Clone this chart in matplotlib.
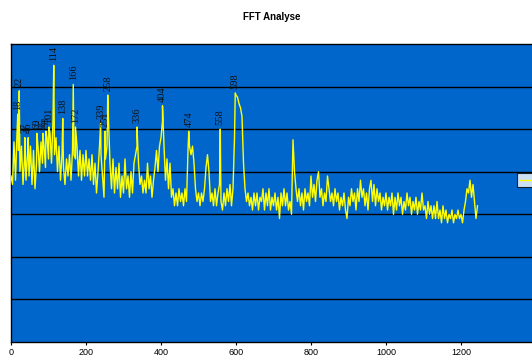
import numpy as np
import matplotlib
matplotlib.use("Agg")
import matplotlib.pyplot as plt

# FFT amplitude, sampled every 4 units from 0 to 1244
step = 4
amp_0 = [3.9, 3.7, 4.7, 3.8, 4.9, 4.5, 4.0, 4.6, 3.7, 4.3, 3.8, 4.4, 3.9, 4.6, 3.7, 4.5, 3.6, 4.2, 4.6, 4.0, 4.7, 4.2, 4.6, 4.1, 4.8]
amp_100 = [4.3, 4.9, 4.2, 5.2, 4.4, 4.8, 4.0, 4.6, 3.8, 4.4, 4.1, 3.7, 4.3, 3.9, 4.4, 3.8, 4.5, 4.4, 4.3, 4.6, 3.9, 4.5, 3.8, 4.4, 3.9]
amp_200 = [4.5, 3.9, 4.3, 3.8, 4.4, 3.7, 4.2, 3.5, 4.0, 4.6, 4.4, 3.9, 3.4, 4.3, 4.6, 5.2, 4.2, 3.6, 4.3, 3.5, 4.1, 3.6, 4.2, 3.4, 3.9]
amp_300 = [3.5, 4.3, 3.6, 3.9, 3.4, 4.0, 3.5, 4.2, 4.4, 4.6, 4.2, 3.7, 3.9, 3.5, 3.8, 3.5, 4.2, 3.6, 3.9, 3.4, 3.8, 4.1, 4.5, 4.0, 4.6]
amp_400 = [4.8, 5.2, 4.6, 3.8, 4.3, 3.6, 4.2, 3.4, 3.6, 3.2, 3.5, 3.2, 3.6, 3.3, 3.5, 3.2, 3.6, 3.3, 4.5, 4.6, 4.4, 4.6, 4.2, 3.6, 3.3]
amp_500 = [3.5, 3.2, 3.5, 3.3, 3.6, 4.1, 4.4, 4.0, 3.3, 3.5, 3.2, 3.6, 3.2, 3.5, 3.7, 3.3, 3.1, 3.5, 3.2, 3.6, 3.3, 3.7, 3.2, 3.6, 4.8]
amp_600 = [5.8, 5.75, 5.6, 5.5, 5.3, 4.2, 3.6, 3.3, 3.5, 3.2, 3.4, 3.1, 3.5, 3.2, 3.5, 3.1, 3.4, 3.3, 3.6, 3.1, 3.5, 3.2, 3.6, 3.1, 3.4]
amp_700 = [3.2, 3.5, 3.1, 3.4, 2.9, 3.5, 3.2, 3.6, 3.2, 3.5, 3.1, 3.3, 3.0, 4.75, 4.0, 3.6, 3.3, 3.6, 3.2, 3.5, 3.1, 3.6, 3.3, 3.5, 3.2]
amp_800 = [3.9, 3.4, 3.7, 3.3, 3.8, 4.0, 3.4, 3.6, 3.2, 3.5, 3.3, 3.9, 3.6, 3.3, 3.5, 3.2, 3.6, 3.3, 3.5, 3.1, 3.4, 3.2, 3.5, 3.1, 2.9]
amp_900 = [3.4, 3.2, 3.6, 3.3, 3.5, 3.1, 3.6, 3.3, 3.8, 3.4, 3.6, 3.2, 3.5, 3.1, 3.6, 3.8, 3.3, 3.7, 3.2, 3.6, 3.3, 3.5, 3.1, 3.4, 3.2]
amp_1000 = [3.5, 3.1, 3.4, 3.2, 3.5, 3.0, 3.4, 3.1, 3.5, 3.2, 3.4, 3.0, 3.3, 3.1, 3.5, 3.2, 3.4, 3.0, 3.3, 3.1, 3.4, 3.0, 3.3, 3.1, 3.5]
amp_1100 = [3.1, 3.2, 2.9, 3.3, 3.0, 3.2, 2.9, 3.2, 2.9, 3.3, 2.9, 3.1, 2.8, 3.2, 2.9, 3.1, 2.8, 3.0, 2.9, 3.1, 2.8, 3.0, 2.9, 3.1, 2.9]
amp_1200 = [3.0, 2.8, 3.1, 3.3, 3.6, 3.5, 3.8, 3.4, 3.7, 3.3, 2.9, 3.2]

# labelled peaks
peak_x = [18, 22, 37, 46, 69, 85, 93, 101, 114, 138, 166, 172, 239, 251, 258, 336, 404, 474, 558, 598]
peak_y = [5.35, 5.9, 4.8, 4.8, 4.9, 4.9, 4.95, 5.05, 6.5, 5.25, 6.05, 5.05, 5.15, 4.95, 5.8, 5.05, 5.55, 4.95, 5.0, 5.85]

xticks = [0, 200, 400, 600, 800, 1000, 1200]

base_y = np.array(amp_0 + amp_100 + amp_200 + amp_300 + amp_400 + amp_500 + amp_600
                  + amp_700 + amp_800 + amp_900 + amp_1000 + amp_1100 + amp_1200)
base_x = np.arange(len(base_y)) * step

x = np.concatenate([base_x, peak_x])
y = np.concatenate([base_y, peak_y])
order = np.argsort(x, kind="stable")
x, y = x[order], y[order]

fig = plt.figure(figsize=(5.32, 3.61), dpi=100)
ax = fig.add_axes([11 / 532, 19 / 361, 525 / 532, 298 / 361])
ax.set_facecolor("#0066CC")

ax.plot(x, y, color="#FFFF00", lw=1.0, label="Reihe1", zorder=3)

for px, py in zip(peak_x, peak_y):
    ax.annotate(str(px), (px, py), xytext=(0, 3), textcoords="offset points",
                rotation=90, ha="center", va="bottom", fontsize=7.5,
                family="Liberation Serif", color="#111111", zorder=4)

ax.set_xlim(0, 1400)
ax.set_ylim(0, 7)
ax.set_yticks(range(1, 7))
ax.yaxis.grid(True, color="black", lw=1)
ax.set_axisbelow(True)
ax.tick_params(axis="y", left=False, labelleft=False)
ax.set_xticks(xticks)
ax.tick_params(axis="x", direction="out", length=2.5, width=0.8, labelsize=6.5, pad=2)
for lab in ax.get_xticklabels():
    lab.set_family("Liberation Sans")
for sp in ax.spines.values():
    sp.set_color("black")
    sp.set_linewidth(1)

fig.text(272 / 532, 1 - 17 / 361, "FFT Analyse", ha="center", va="center",
         fontsize=7, fontweight="bold", family="Liberation Sans")

leg = ax.legend(loc="upper left", bbox_to_anchor=(517 / 532, 1 - 173 / 361),
                bbox_transform=fig.transFigure, fontsize=6.5, frameon=True,
                fancybox=False, handlelength=2.0, borderpad=0.3, borderaxespad=0)
leg.get_frame().set_edgecolor("black")
leg.get_frame().set_linewidth(0.8)

fig.savefig("out.png", dpi=100)
